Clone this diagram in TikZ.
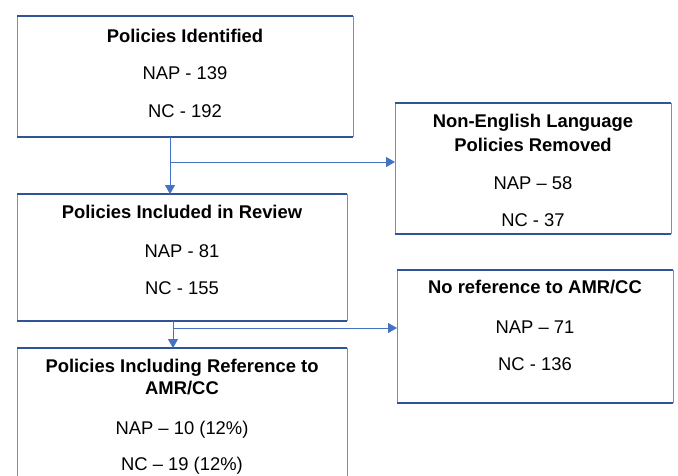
\documentclass[tikz,border=0pt]{standalone}
\usepackage{fontspec}
\setmainfont{Liberation Sans}
\usetikzlibrary{arrows.meta}
\definecolor{boxh}{HTML}{2F5597}
\definecolor{boxv}{HTML}{6F8FC8}
\definecolor{arr}{HTML}{4472C4}
\begin{document}
\begin{tikzpicture}[x=1pt,y=-1pt,
  boxnode/.style={draw=none,inner sep=0pt,outer sep=0pt},
  ttl/.style={anchor=base,inner sep=0pt,font=\fontsize{18.4}{20}\selectfont\bfseries},
  txt/.style={anchor=base,inner sep=0pt,font=\fontsize{18.4}{20}\selectfont},
  hedge/.style={draw=boxh,line width=2pt},
  vedge/.style={draw=boxv,line width=1pt},
  conn/.style={draw=arr,line width=0.9pt},
  arrw/.style={conn,-{Triangle[length=9pt,width=10pt]}}]
\useasboundingbox (0,0) rectangle (678,475);
\clip (0,0) rectangle (678,475);
% boxes
\node[boxnode,minimum width=336pt,minimum height=121pt] (b1) at (185,76.5) {};
\node[boxnode,minimum width=276pt,minimum height=131pt] (b2) at (533,168.5) {};
\node[boxnode,minimum width=330pt,minimum height=127pt] (b3) at (182,257.5) {};
\node[boxnode,minimum width=276pt,minimum height=133pt] (b4) at (535,336.5) {};
\node[boxnode,minimum width=330pt,minimum height=160pt] (b5) at (182,428) {};
\foreach \b in {b1,b2,b3,b4,b5}{
  \draw[vedge] (\b.north west) -- (\b.south west);
  \draw[vedge] (\b.north east) -- (\b.south east);
  \draw[hedge] (\b.north west) -- (\b.north east);
  \draw[hedge] (\b.south west) -- (\b.south east);
}
% texts
\node[ttl] (t1) at (185,42) {Policies Identified};
\node[txt] (n1) at (185,79) {NAP - 139};
\node[txt] (c1) at (185,117) {NC - 192};
\node[ttl] (t2a) at (533,127) {Non-English Language};
\node[ttl] (t2b) at (533,151) {Policies Removed};
\node[txt] (n2) at (533,189) {NAP -- 58};
\node[txt] (c2) at (533,226) {NC - 37};
\node[ttl] (t3) at (182,218) {Policies Included in Review};
\node[txt] (n3) at (182,257) {NAP - 81};
\node[txt] (c3) at (182,294) {NC - 155};
\node[ttl] (t4) at (535,293) {No reference to AMR/CC};
\node[txt] (n4) at (535,333) {NAP -- 71};
\node[txt] (c4) at (535,370) {NC - 136};
\node[ttl] (t5a) at (182,372) {Policies Including Reference to};
\node[ttl] (t5b) at (182,394) {AMR/CC};
\node[txt] (n5) at (182,434) {NAP -- 10 (12\%)};
\node[txt] (c5) at (182,470) {NC -- 19 (12\%)};
% connectors
\coordinate (j1) at (170,162);
\coordinate (j2) at (173,328);
\draw[arrw] (b1.south -| j1) -- (b3.north -| j1);
\draw[arrw] (j1) -- (j1 -| b2.west);
\draw[arrw] (b3.south -| j2) -- (b5.north -| j2);
\draw[arrw] (j2) -- (j2 -| b4.west);
\end{tikzpicture}
\end{document}
